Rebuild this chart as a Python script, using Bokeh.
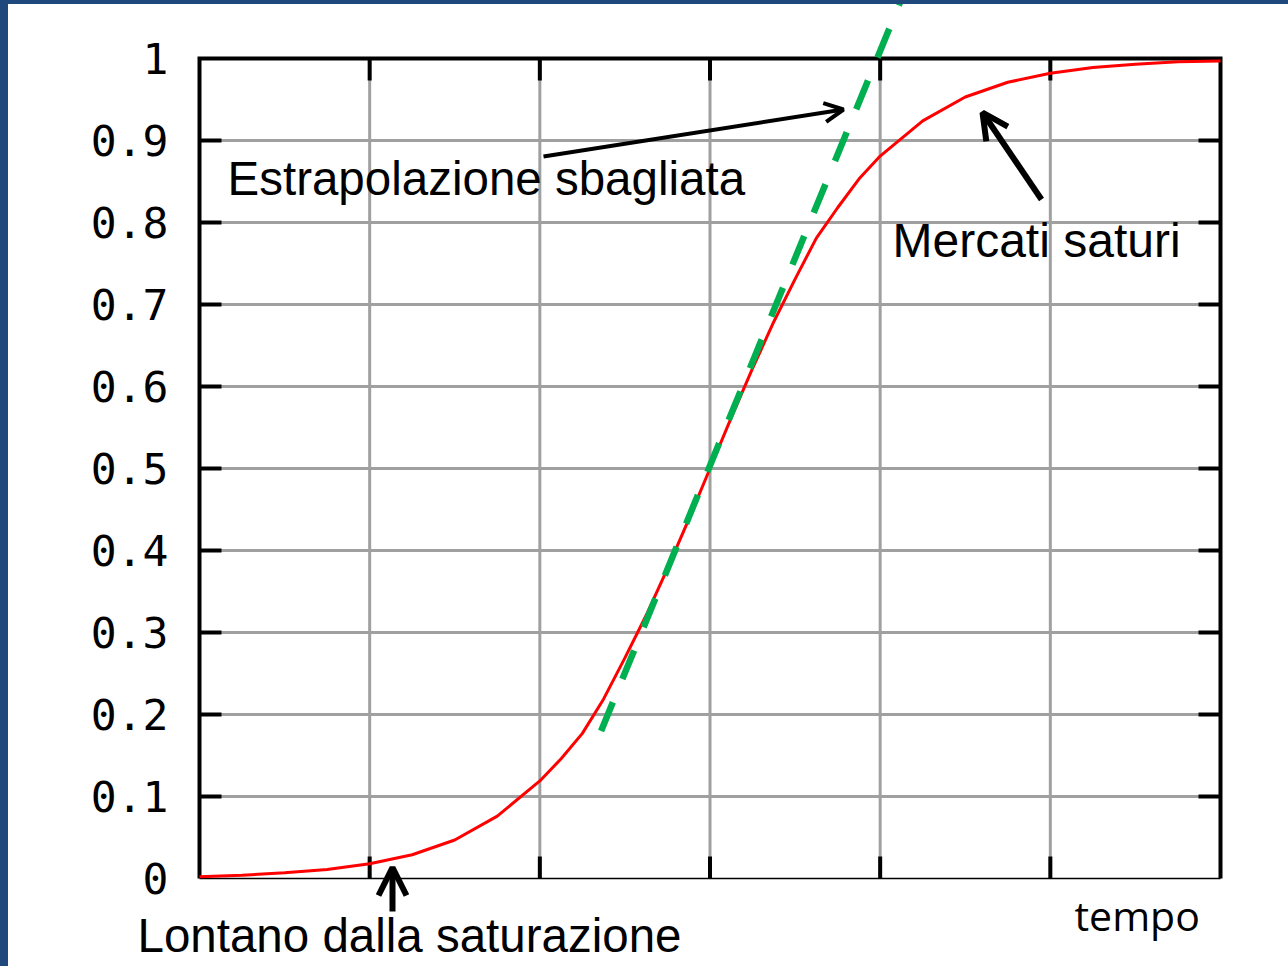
from bokeh.plotting import figure
from bokeh.models import (Range1d, Label, Arrow, OpenHead, GlobalInlineStyleSheet)
from bokeh.core.properties import value
from bokeh.embed import file_html
from bokeh.resources import INLINE

# ---- data ----
tempo = [0.0, 0.25, 0.5, 0.75, 1.0, 1.25, 1.5, 1.75, 2.0, 2.125, 2.25, 2.375,
         2.5, 2.625, 2.75, 2.875, 3.0, 3.125, 3.25, 3.375, 3.5, 3.625, 3.75,
         3.875, 4.0, 4.25, 4.5, 4.75, 5.0, 5.25, 5.5, 5.75, 6.0]
quota = [0.002, 0.004, 0.007, 0.011, 0.018, 0.029, 0.047, 0.076, 0.119,
         0.146, 0.177, 0.219, 0.269, 0.321, 0.378, 0.438, 0.500, 0.562,
         0.622, 0.679, 0.731, 0.781, 0.818, 0.853, 0.881, 0.924,
         0.953, 0.971, 0.982, 0.989, 0.993, 0.996, 0.997]
tangent_x = [2.36, 4.12]
tangent_y = [0.18, 1.07]
x_ticks = [1, 2, 3, 4, 5]
y_ticks = [0.1, 0.2, 0.3, 0.4, 0.5, 0.6, 0.7, 0.8, 0.9]
y_label_ticks = [0, 0.1, 0.2, 0.3, 0.4, 0.5, 0.6, 0.7, 0.8, 0.9, 1]
y_label_text = ["0", "0.1", "0.2", "0.3", "0.4", "0.5", "0.6", "0.7", "0.8", "0.9", "1"]
X_MIN, X_MAX = 0, 6
Y_MIN, Y_MAX = 0, 1

# ---- layout (pixels) ----
W, H = 1288, 966
FRAME_L, FRAME_R, FRAME_T, FRAME_B = 199, 1220, 58, 878
ppx = (FRAME_R - FRAME_L) / (X_MAX - X_MIN)
ppy = (FRAME_B - FRAME_T) / (Y_MAX - Y_MIN)
x_lo = X_MIN - FRAME_L / ppx
x_hi = X_MAX + (W - FRAME_R) / ppx
y_lo = Y_MIN - (H - FRAME_B) / ppy
y_hi = Y_MAX + FRAME_T / ppy

def dx(px):
    return X_MIN + (px - FRAME_L) / ppx

def dy(py):
    return Y_MIN + (FRAME_B - py) / ppy

p = figure(width=W, height=H, output_backend="svg", toolbar_location=None,
           x_range=Range1d(x_lo, x_hi), y_range=Range1d(y_lo, y_hi),
           x_axis_type=None, y_axis_type=None, min_border=0)
p.outline_line_color = None
p.background_fill_color = "white"
p.border_fill_color = "white"
p.grid.visible = False

GRID = "#a0a0a0"
# grid
p.segment(x0=x_ticks, y0=[Y_MIN] * len(x_ticks), x1=x_ticks, y1=[Y_MAX] * len(x_ticks),
          line_color=GRID, line_width=3)
p.segment(x0=[X_MIN] * len(y_ticks), y0=y_ticks, x1=[X_MAX] * len(y_ticks), y1=y_ticks,
          line_color=GRID, line_width=3)

# inner ticks on all four borders
TL = 22
p.ray(x=x_ticks, y=[Y_MAX] * len(x_ticks), length=TL, length_units="screen",
      angle=-1.5707963, line_color="black", line_width=4)
p.ray(x=x_ticks, y=[Y_MIN] * len(x_ticks), length=TL, length_units="screen",
      angle=1.5707963, line_color="black", line_width=4)
p.ray(x=[X_MIN] * len(y_ticks), y=y_ticks, length=TL, length_units="screen",
      angle=0, line_color="black", line_width=4)
p.ray(x=[X_MAX] * len(y_ticks), y=y_ticks, length=TL, length_units="screen",
      angle=3.14159265, line_color="black", line_width=4)

# border
p.line(x=[X_MIN, X_MIN, X_MAX, X_MAX], y=[Y_MIN, Y_MAX, Y_MAX, Y_MIN],
       line_color="black", line_width=4, line_join="miter")
p.line(x=[X_MIN, X_MAX], y=[Y_MIN, Y_MIN], line_color="black", line_width=1.5)

# y tick labels
p.text(x=[X_MIN] * len(y_label_ticks), y=y_label_ticks, text=y_label_text,
       x_offset=-31, text_align="right", text_baseline="middle",
       text_font=value("DejaVu Sans Mono"), text_font_size="43px",
       text_color="black")

# logistic curve
p.line(x=tempo, y=quota, line_color="#ff0000", line_width=3)

# wrong extrapolation
p.line(x=tangent_x, y=tangent_y, line_color="#00b050", line_width=6.5,
       line_dash="31 25", line_cap="butt")

# texts
SHIFT = 17
def lab(px, py, t, font, size):
    p.add_layout(Label(x=dx(px), y=dy(py - SHIFT), text=t, text_font=font,
                       text_font_size=size, text_color="black",
                       text_baseline="alphabetic", text_align="left"))

lab(227, 195, "Estrapolazione sbagliata", "Liberation Sans", "47.5px")
lab(892, 257, "Mercati saturi", "Liberation Sans", "48px")
lab(137, 952, "Lontano dalla saturazione", "Liberation Sans", "47.5px")
lab(1074, 931, "tempo", "Open Sans", "41px")

# arrows
def arrow(x0, y0, x1, y1, lw, size):
    p.add_layout(Arrow(x_start=dx(x0), y_start=dy(y0), x_end=dx(x1), y_end=dy(y1),
                       line_color="black", line_width=lw,
                       end=OpenHead(size=size, line_width=lw, line_color="black")))

arrow(543, 156, 843, 109, 4, 19)
arrow(1041, 199, 982, 112, 6, 26)
arrow(392, 911, 392, 867, 6, 28)

p.stylesheets = [GlobalInlineStyleSheet(css=(
    "body::before{content:'';position:fixed;left:0;top:0;width:8px;height:100vh;"
    "background:#1f497d;z-index:10}"
    "body::after{content:'';position:fixed;left:0;top:0;width:100vw;height:4px;"
    "background:#1f497d;z-index:10}"))]

open("out.html", "w").write(file_html(p, INLINE))
